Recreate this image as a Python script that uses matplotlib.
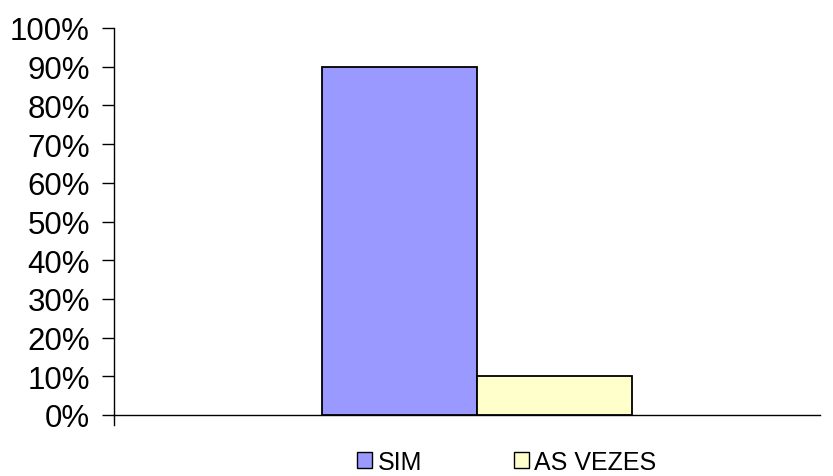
import matplotlib
matplotlib.use("Agg")
import matplotlib.pyplot as plt
import matplotlib.ticker as ticker
import matplotlib.transforms as transforms
from matplotlib.patches import Patch

categorias = ["SIM", "AS VEZES"]
valores = [90, 10]
cores = ["#9999FF", "#FFFFCC"]

plt.rcParams['font.family'] = ['Liberation Sans', 'DejaVu Sans']

fig = plt.figure(figsize=(8.33, 4.77), dpi=100)
ax = fig.add_axes([113.5 / 833, 1 - 416 / 477, (820 - 113.5) / 833, (416 - 29) / 477])

posicoes = [-0.5, 0.5]
for p, v, c in zip(posicoes, valores, cores):
    ax.bar(p, v, width=1.0, color=c, edgecolor="black", linewidth=1.3, zorder=3)

ax.set_xlim((113.5 - 477) / 155, (820 - 477) / 155)
ax.set_ylim(0, 100)
ax.yaxis.set_major_locator(ticker.MultipleLocator(10))
ax.yaxis.set_major_formatter(ticker.FuncFormatter(lambda v, pos: "%d%%" % v))
ax.tick_params(axis="y", direction="out", length=9, width=1, labelsize=22.5, pad=8)
ax.set_xticks([])
for s in ["top", "right"]:
    ax.spines[s].set_visible(False)
ax.spines["left"].set_linewidth(1)
ax.spines["bottom"].set_linewidth(1)

# the left axis goes a little below the baseline
tr = transforms.blended_transform_factory(ax.transAxes, ax.transAxes)
ax.plot([0, 0], [-10 / 387, 0], color="black", lw=1, transform=tr, clip_on=False)

handles = [Patch(facecolor=c, edgecolor="black", linewidth=1) for c in cores]
fig.legend(handles, categorias, loc="center", bbox_to_anchor=(507 / 833, 1 - 463 / 477),
           ncol=2, frameon=False, fontsize=18, handlelength=0.6, handleheight=0.6,
           handletextpad=0.2, columnspacing=3.7, borderpad=0.1)

fig.savefig("out.png", dpi=100)
